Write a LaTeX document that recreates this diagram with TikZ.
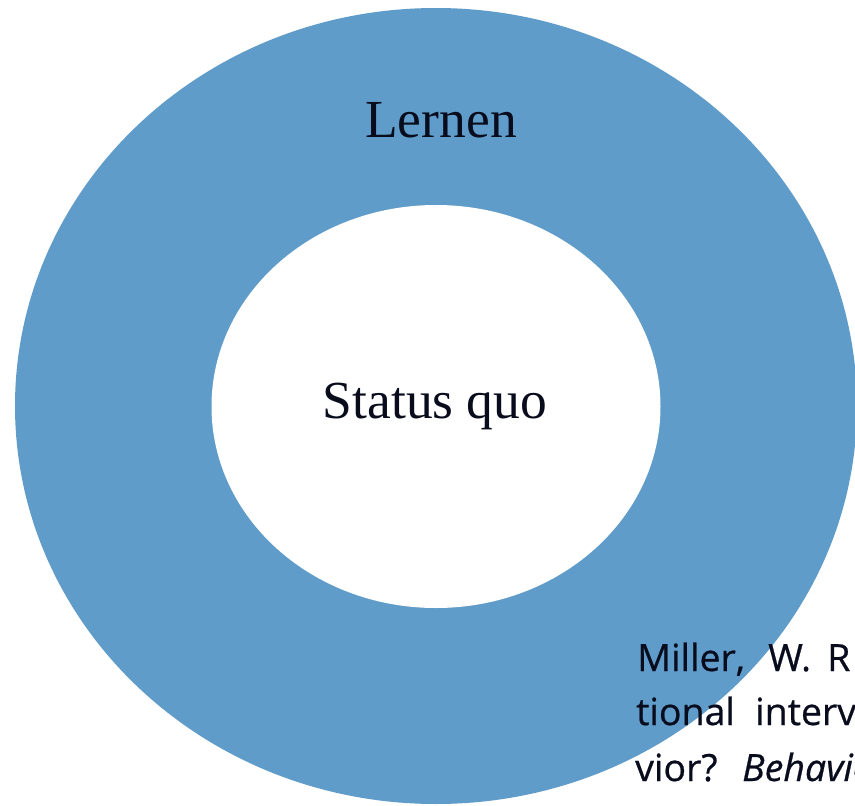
\documentclass[tikz,border=0pt]{standalone}
\usepackage{fontspec}
\setmainfont{Liberation Serif}
\newfontfamily\citefont[FakeBold=0.6]{Open Sans}
\usetikzlibrary{shapes.geometric}
\definecolor{ringblue}{RGB}{95,156,201}
\definecolor{inkdark}{RGB}{8,12,28}
\tikzset{
  ring/.style={ellipse, fill=ringblue, inner sep=0pt, draw=none},
  hole/.style={ellipse, fill=white, inner sep=0pt, draw=none},
  bigtext/.style={font=\fontsize{53.5}{60}\selectfont, text=inkdark, inner sep=0pt, anchor=base},
  citeword/.style={font=\citefont\fontsize{37.5}{42}\selectfont, text=inkdark, inner sep=0pt, anchor=base west}
}
\begin{document}
\begin{tikzpicture}[x=1pt,y=-1pt]
\useasboundingbox (0,0) rectangle (855,806);
\clip (0,0) rectangle (855,806);
\fill[white] (0,0) rectangle (855,806);
\node[ring, minimum width=842pt, minimum height=796pt] (outer) at (436,406) {};
\node[hole, minimum width=449pt, minimum height=403pt] (inner) at (436,406.5) {};
\node[bigtext] (lernen) at (441,137) {Lernen};
\node[bigtext] (status) at (435,418) {Status quo};
\node[citeword] (c1a) at (637,671) {Miller,};
\node[citeword] (c1b) at (768,671) {W.};
\node[citeword] (c1c) at (827,671) {R};
\node[citeword] (c2a) at (636,725) {tional};
\node[citeword] (c2b) at (755,725) {interv};
\node[citeword] (c3a) at (635,781) {vior?};
\node[citeword] (c3b) at (742,781) {\itshape Behavio};
\end{tikzpicture}
\end{document}
